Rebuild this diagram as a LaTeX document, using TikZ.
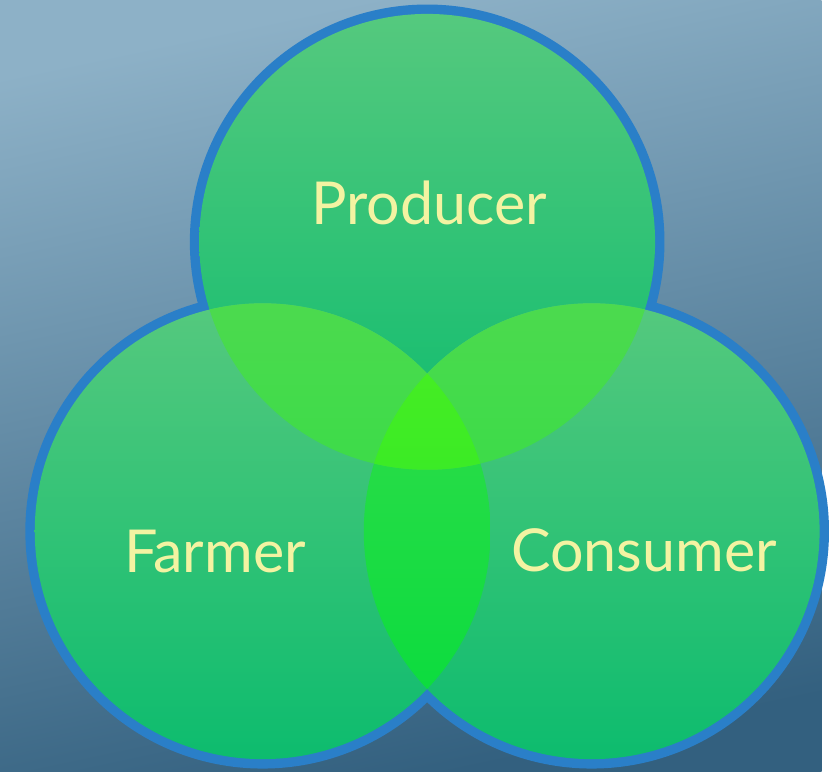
\documentclass[tikz,border=0pt]{standalone}
\usepackage{fontspec}
\setmainfont{Lato}
\usepackage{tikz}
\usetikzlibrary{positioning}

\definecolor{bgTop}{HTML}{8DB1C7}
\definecolor{bgBot}{HTML}{33607F}
\definecolor{rimblue}{HTML}{2A7FC8}
\definecolor{discTop}{HTML}{55C97E}
\definecolor{discBot}{HTML}{0DBC6E}
\definecolor{lensTop}{HTML}{4CDA4E}
\definecolor{lensBot}{HTML}{22DE40}
\definecolor{lowTop}{HTML}{36DC4C}
\definecolor{lowBot}{HTML}{05DC3C}
\definecolor{coreTop}{HTML}{4CEE22}
\definecolor{coreBot}{HTML}{1EE62C}
\definecolor{labelyellow}{HTML}{F3F3A2}

\begin{document}
\begin{tikzpicture}[x=0.02cm,y=-0.02cm,
		rim/.style={draw=rimblue,line width=0.38cm},
		disc/.style={top color=discTop,bottom color=discBot},
		vennlabel/.style={text=labelyellow,font=\fontsize{34}{40}\selectfont}]
	\shade[top color=bgTop,bottom color=bgBot,shading angle=12]
		(0,0) rectangle (829,778);
	\coordinate (producer) at (431,244);
	\coordinate (farmer) at (265,536);
	\coordinate (consumer) at (597,536);
	\foreach \c in {producer,farmer,consumer}
		\draw[rim] (\c) circle[radius=4.6cm];
	\foreach \c in {producer,farmer,consumer}
		\shade[disc] (\c) circle[radius=4.6cm];
	\begin{scope}
		\clip (farmer) circle[radius=4.6cm];
		\shade[top color=lowTop,bottom color=lowBot] (consumer) circle[radius=4.6cm];
	\end{scope}
	\begin{scope}
		\clip (producer) circle[radius=4.6cm];
		\shade[top color=lensTop,bottom color=lensBot] (farmer) circle[radius=4.6cm];
		\shade[top color=lensTop,bottom color=lensBot] (consumer) circle[radius=4.6cm];
		\clip (farmer) circle[radius=4.6cm];
		\shade[top color=coreTop,bottom color=coreBot] (consumer) circle[radius=4.6cm];
	\end{scope}
	\node[vennlabel] (producerText) at (433,205) {Producer};
	\node[vennlabel] (farmerText) at (217,556) {Farmer};
	\node[vennlabel] (consumerText) at (650,555) {Consumer};
\end{tikzpicture}
\end{document}
